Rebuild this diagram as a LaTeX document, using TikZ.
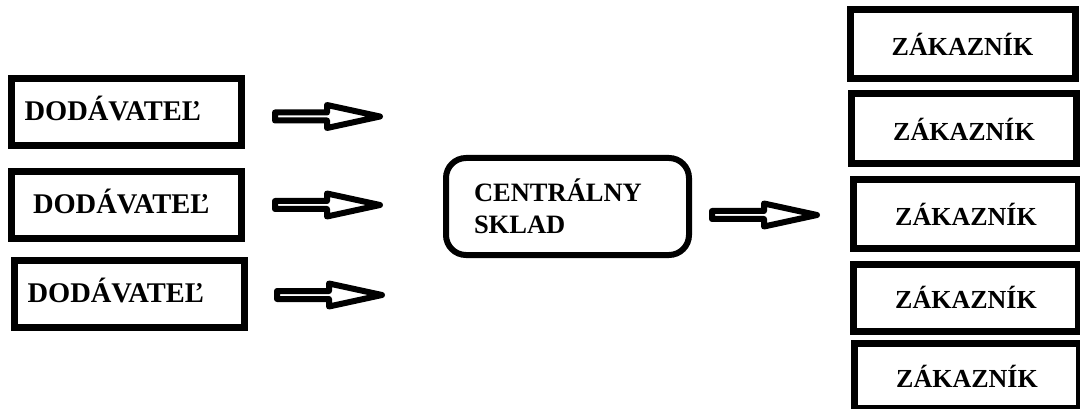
\documentclass[tikz,border=0pt]{standalone}
\usepackage{fontspec}
\setmainfont{Liberation Serif}
\begin{document}
\begin{tikzpicture}[x=1pt,y=-1pt,
  txt/.style={font=\fontsize{26}{32}\selectfont\bfseries},
  dbox/.style={font=\fontsize{28.5}{32}\selectfont\bfseries,draw,line width=7pt,minimum width=230pt,minimum height=67pt,
    align=left,text height=18pt,text depth=0pt,inner ysep=0pt},
  kbox/.style={txt,draw,line width=7pt,minimum width=225pt,inner sep=0pt},
  cbox/.style={font=\fontsize{26.5}{32}\selectfont\bfseries,draw,line width=6pt,rounded corners=20pt,minimum width=243pt,
    minimum height=97pt,align=left,inner xsep=28pt,text width=187pt},
  blockarr/.pic={\draw[line width=6pt,line join=round]
     (0,-4) -- (52,-4) -- (52,-11.5) -- (105,0) -- (52,11.5) -- (52,4) -- (0,4) -- cycle;}
]
\useasboundingbox (0,0) rectangle (1080,409);
\clip (0,0) rectangle (1080,409);
% suppliers
\node[dbox,inner xsep=13pt,text width=204pt] (d1) at (126.5,112) {DODÁVATEĽ};
\node[dbox,inner xsep=21.5pt,text width=187pt] (d2) at (126.5,205) {DODÁVATEĽ};
\node[dbox,inner xsep=13.5pt,text width=203pt] (d3) at (129,293.5) {DODÁVATEĽ};
% central
\node[cbox] (c) at (567.5,206.5) {CENTRÁLNY\\SKLAD};
% customers
\node[kbox,minimum height=69pt] (k1) at (962.5,44.5) {ZÁKAZNÍK};
\node[kbox,minimum height=70pt] (k2) at (964,129) {ZÁKAZNÍK};
\node[kbox,minimum height=68pt] (k3) at (966,214) {ZÁKAZNÍK};
\node[kbox,minimum height=67pt] (k4) at (966,297.5) {ZÁKAZNÍK};
\node[kbox,minimum height=65pt] (k5) at (967,376) {ZÁKAZNÍK};
% block arrows
\pic (a1) at (275,116.5) {blockarr};
\pic (a2) at (275,205) {blockarr};
\pic (a3) at (277,295) {blockarr};
\pic (a4) at (712,215) {blockarr};
\end{tikzpicture}
\end{document}
